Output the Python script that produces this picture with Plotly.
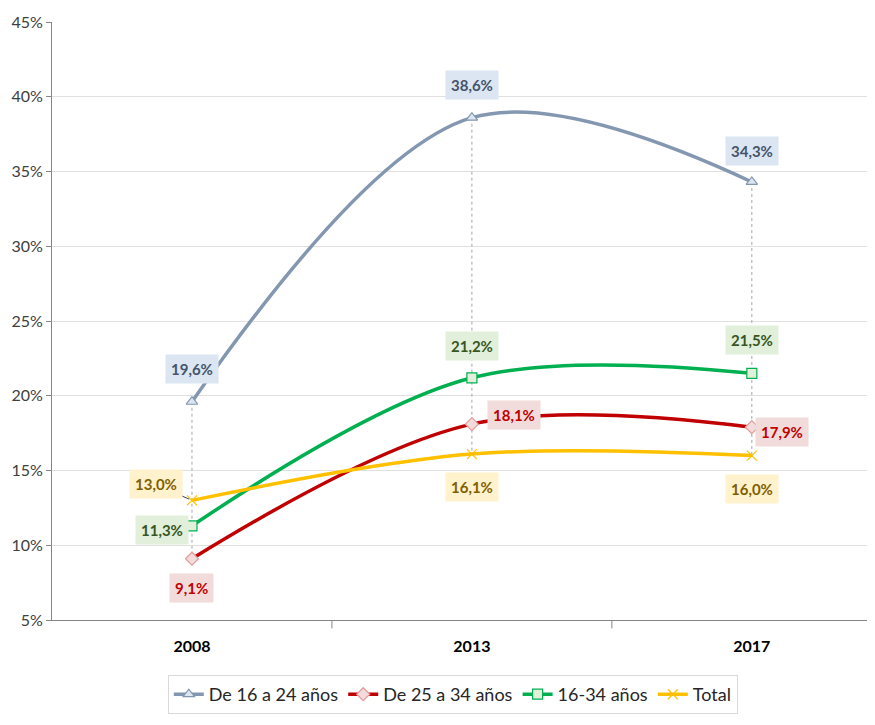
import plotly.graph_objects as go

years = ["2008", "2013", "2017"]
series_names = ["De 16 a 24 años", "De 25 a 34 años", "16-34 años", "Total"]
v_16_24 = [19.6, 38.6, 34.3]
v_25_34 = [9.1, 18.1, 17.9]
v_16_34 = [11.3, 21.2, 21.5]
v_total = [13.0, 16.1, 16.0]
y_ticks = [5, 10, 15, 20, 25, 30, 35, 40, 45]
y_tick_text = [f"{t}%" for t in y_ticks]

FONT = "Lato, Open Sans, sans-serif"

styles = [
    dict(line="#8497b0", msym="triangle-up", mfill="#dce6f2", mline="#8497b0",
         bg="#dce6f2", tc="#44546a"),
    dict(line="#c00000", msym="diamond", mfill="#f2dcdb", mline="#e59a9a",
         bg="#f2dcdb", tc="#c00000"),
    dict(line="#00b050", msym="square", mfill="#e2f0d9", mline="#00b050",
         bg="#e2efda", tc="#375623"),
    dict(line="#ffc000", msym="x-thin-open", mfill="#ffc000", mline="#ffc000",
         bg="#fff2cc", tc="#7f6000"),
]
all_vals = [v_16_24, v_25_34, v_16_34, v_total]
xidx = list(range(len(years)))

fig = go.Figure()

hx, hy = [], []
for i in xidx:
    col = [s[i] for s in all_vals]
    hx += [i, i, None]
    hy += [max(col), min(col), None]
fig.add_trace(go.Scatter(x=hx, y=hy, mode="lines", showlegend=False, hoverinfo="skip",
                         line=dict(color="#a6a6a6", width=1, dash="dot")))

for name, vals, st in zip(series_names, all_vals, styles):
    fig.add_trace(go.Scatter(
        x=xidx, y=vals, name=name, mode="lines+markers",
        line=dict(color=st["line"], width=3.5, shape="spline", smoothing=1),
        marker=dict(symbol=st["msym"], size=10, color=st["mfill"],
                    line=dict(color=st["mline"], width=1.2)),
    ))

def fmt(v):
    return "<b>" + f"{v:.1f}".replace(".", ",") + "%</b>"

placements = {
    (0, 0): (0, 33), (0, 1): (0, 33), (0, 2): (0, 31),
    (1, 0): (0, -29), (1, 1): (42, 9), (1, 2): (30, -5),
    (2, 0): (-30, -4), (2, 1): (0, 32), (2, 2): (0, 33),
    (3, 1): (0, -33), (3, 2): (0, -33),
}
for si, (vals, st) in enumerate(zip(all_vals, styles)):
    for pi, v in enumerate(vals):
        if (si, pi) in placements:
            xs, ys = placements[(si, pi)]
            fig.add_annotation(x=xidx[pi], y=v, xref="x", yref="y", text=fmt(v),
                               showarrow=False, xshift=xs, yshift=ys,
                               bgcolor=st["bg"], borderpad=5,
                               font=dict(family=FONT, size=15, color=st["tc"]))
fig.add_annotation(x=xidx[0], y=v_total[0], xref="x", yref="y", text=fmt(v_total[0]),
                   showarrow=True, arrowhead=0, arrowwidth=1, arrowcolor="#404040",
                   ax=-36, ay=-16, standoff=3, bgcolor=styles[3]["bg"], borderpad=5,
                   font=dict(family=FONT, size=15, color=styles[3]["tc"]))

fig.update_layout(
    width=875, height=725,
    margin=dict(l=44, r=8, t=14, b=113),
    paper_bgcolor="white", plot_bgcolor="white",
    font=dict(family=FONT, size=15, color="#262626"),
    showlegend=True,
    legend=dict(orientation="h", x=0.487, xanchor="center", y=-0.092, yanchor="top",
                bordercolor="#d9d9d9", borderwidth=1, font=dict(size=18, color="#262626")),
    xaxis=dict(range=[-0.5, 2.44], tickvals=xidx, ticktext=[f"<b>{y}</b>" for y in years],
               ticks="", ticklabelstandoff=12, showline=True, linecolor="#868686",
               showgrid=False, zeroline=False, automargin=False,
               tickfont=dict(size=16, color="#000000")),
    yaxis=dict(range=[5, 45], tickvals=y_ticks, ticktext=y_tick_text, ticks="outside",
               ticklen=5, tickcolor="#868686", showline=True, linecolor="#868686",
               gridcolor="#e0e0e0", zeroline=False, automargin=False,
               tickfont=dict(size=16, color="#404040")),
)

for b in [0.5, 1.5]:
    fig.add_shape(type="line", xref="x", yref="paper", x0=b, x1=b, y0=0, y1=-0.014,
                  line=dict(color="#868686", width=1))

fig.write_html("out.html")
